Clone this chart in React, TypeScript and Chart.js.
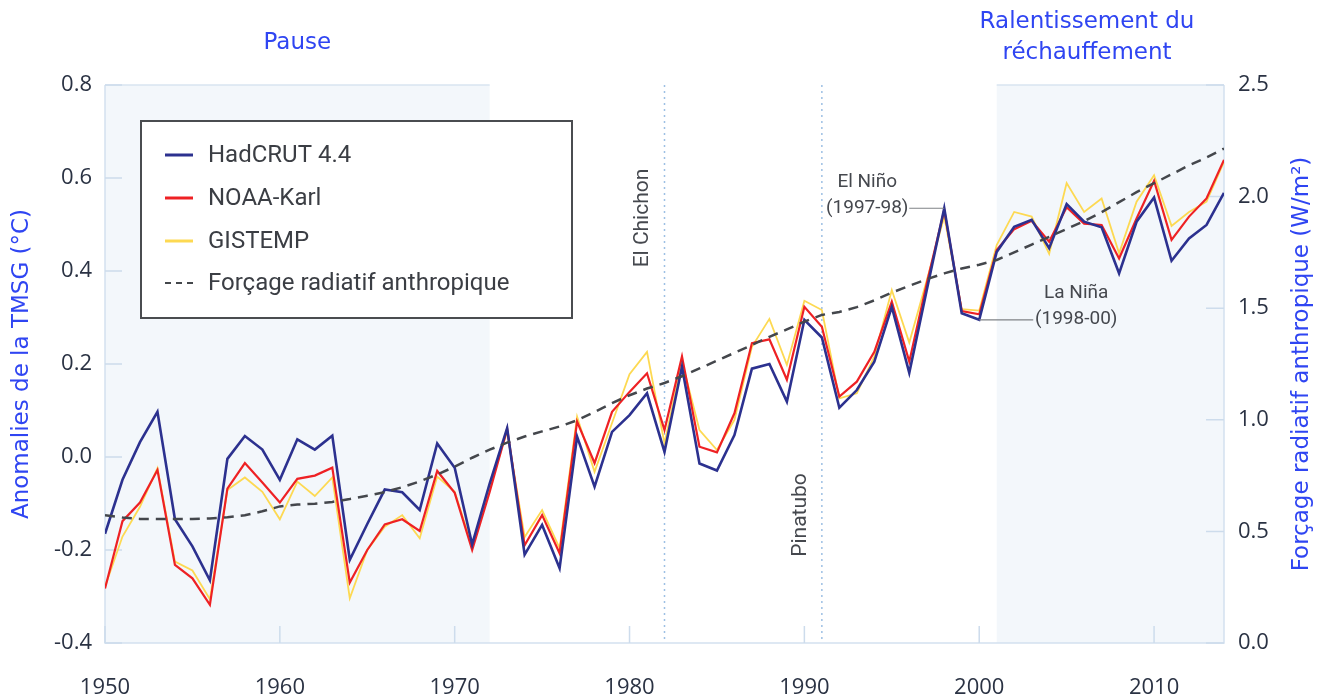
import React, { useEffect, useRef } from "react";
import { Chart, registerables } from "chart.js";

Chart.register(...registerables);

const years = [
  1950, 1951, 1952, 1953, 1954, 1955, 1956, 1957, 1958, 1959,
  1960, 1961, 1962, 1963, 1964, 1965, 1966, 1967, 1968, 1969,
  1970, 1971, 1972, 1973, 1974, 1975, 1976, 1977, 1978, 1979,
  1980, 1981, 1982, 1983, 1984, 1985, 1986, 1987, 1988, 1989,
  1990, 1991, 1992, 1993, 1994, 1995, 1996, 1997, 1998, 1999,
  2000, 2001, 2002, 2003, 2004, 2005, 2006, 2007, 2008, 2009,
  2010, 2011, 2012, 2013, 2014,
];

const hadcrut = [
  -0.165, -0.049, 0.032, 0.097, -0.134, -0.192, -0.265, -0.004, 0.045, 0.016,
  -0.049, 0.038, 0.016, 0.046, -0.221, -0.144, -0.07, -0.076, -0.114, 0.029,
  -0.023, -0.188, -0.057, 0.062, -0.21, -0.146, -0.239, 0.044, -0.064, 0.054,
  0.09, 0.137, 0.011, 0.194, -0.014, -0.029, 0.047, 0.19, 0.2, 0.119,
  0.295, 0.257, 0.106, 0.144, 0.205, 0.323, 0.181, 0.359, 0.535, 0.309,
  0.295, 0.441, 0.495, 0.51, 0.449, 0.544, 0.506, 0.494, 0.395, 0.506,
  0.558, 0.422, 0.47, 0.499, 0.568,
];

const noaaKarl = [
  -0.283, -0.138, -0.098, -0.028, -0.232, -0.261, -0.318, -0.068, -0.013, -0.055,
  -0.098, -0.047, -0.04, -0.023, -0.27, -0.2, -0.145, -0.134, -0.159, -0.03,
  -0.077, -0.2, -0.075, 0.06, -0.19, -0.125, -0.207, 0.076, -0.013, 0.097,
  0.14, 0.18, 0.058, 0.216, 0.022, 0.01, 0.094, 0.245, 0.253, 0.166,
  0.323, 0.28, 0.13, 0.162, 0.226, 0.334, 0.205, 0.373, 0.531, 0.314,
  0.307, 0.445, 0.49, 0.508, 0.463, 0.537, 0.502, 0.499, 0.427, 0.513,
  0.594, 0.467, 0.517, 0.556, 0.639,
];

const gistemp = [
  -0.279, -0.171, -0.107, -0.024, -0.225, -0.244, -0.306, -0.071, -0.044, -0.075,
  -0.134, -0.053, -0.084, -0.044, -0.304, -0.2, -0.15, -0.125, -0.175, -0.042,
  -0.075, -0.193, -0.065, 0.055, -0.172, -0.114, -0.196, 0.087, -0.032, 0.073,
  0.178, 0.226, 0.029, 0.205, 0.058, 0.015, 0.08, 0.237, 0.297, 0.198,
  0.336, 0.316, 0.126, 0.137, 0.216, 0.359, 0.246, 0.38, 0.517, 0.318,
  0.315, 0.456, 0.527, 0.517, 0.437, 0.589, 0.527, 0.556, 0.438, 0.549,
  0.606, 0.497, 0.527, 0.549, 0.635,
];

const forcing = [
  0.572, 0.562, 0.556, 0.555, 0.555, 0.556, 0.558, 0.563, 0.572, 0.59,
  0.612, 0.62, 0.624, 0.632, 0.645, 0.66, 0.676, 0.698, 0.724, 0.755,
  0.79, 0.83, 0.866, 0.898, 0.925, 0.948, 0.97, 0.998, 1.035, 1.075,
  1.11, 1.14, 1.165, 1.195, 1.23, 1.265, 1.3, 1.335, 1.372, 1.405,
  1.44, 1.47, 1.483, 1.505, 1.535, 1.57, 1.6, 1.63, 1.656, 1.678,
  1.695, 1.716, 1.75, 1.785, 1.82, 1.855, 1.89, 1.93, 1.975, 2.02,
  2.06, 2.1, 2.14, 2.175, 2.215,
];

const seriesLabels = ["HadCRUT 4.4", "NOAA-Karl", "GISTEMP", "Forçage radiatif anthropique"];
const seriesColors = ["#2c318f", "#ee2124", "#fdd952", "#44474c"];
const shadedPeriods = [
  [1950, 1972],
  [2001, 2014],
];
const periodLabels = [["Pause"], ["Ralentissement du", "réchauffement"]];
const eventYears = [1982, 1991];
const eventLabels = ["El Chichon", "Pinatubo"];
const leftAxisTitle = "Anomalies de la TMSG (°C)";
const rightAxisTitle = "Forçage radiatif anthropique (W/m²)";

const TICK_FONT = '"Open Sans", "Noto Sans", sans-serif';
const TITLE_FONT = '"DejaVu Sans", "Noto Sans", sans-serif';
const LEGEND_FONT = 'Roboto, "Noto Sans", sans-serif';
const NOTE_FONT = '"Liberation Sans Narrow", Roboto, sans-serif';
const BLUE = "#2f45f2";
const TICK_COLOR = "#2a3243";

const pts = (vals: number[]) => years.map((yr, i) => ({ x: yr, y: vals[i] }));

export default function App() {
  const ref = useRef<HTMLCanvasElement>(null);

  useEffect(() => {
    document.body.style.margin = "0";
    const canvas = ref.current!;

    const decor = {
      id: "decor",
      beforeDatasetsDraw(chart: any) {
        const { ctx, chartArea: a, scales } = chart;
        const x = scales.x, y = scales.y, y1 = scales.y1;
        ctx.save();
        for (const [s, e] of shadedPeriods) {
          const x0 = x.getPixelForValue(s);
          const x1 = x.getPixelForValue(e);
          ctx.fillStyle = "#f3f7fb";
          ctx.fillRect(x0, a.top, x1 - x0, a.bottom - a.top);
          ctx.strokeStyle = "#d8e5f1";
          ctx.lineWidth = 1.5;
          ctx.beginPath();
          ctx.moveTo(x0, a.top);
          ctx.lineTo(x1, a.top);
          ctx.stroke();
        }
        ctx.strokeStyle = "#d3e1ef";
        ctx.lineWidth = 1.5;
        ctx.beginPath();
        ctx.moveTo(a.left, a.top);
        ctx.lineTo(a.left, a.bottom);
        ctx.lineTo(a.right, a.bottom);
        ctx.lineTo(a.right, a.top);
        ctx.stroke();
        ctx.strokeStyle = "#cddcec";
        ctx.beginPath();
        y.ticks.forEach((t: any) => {
          const py = y.getPixelForValue(t.value);
          ctx.moveTo(a.left, py);
          ctx.lineTo(a.left + 17, py);
        });
        y1.ticks.forEach((t: any) => {
          const py = y1.getPixelForValue(t.value);
          ctx.moveTo(a.right - 18, py);
          ctx.lineTo(a.right, py);
        });
        x.ticks.forEach((t: any) => {
          const px = x.getPixelForValue(t.value);
          ctx.moveTo(px, a.bottom);
          ctx.lineTo(px, a.bottom - 17);
        });
        ctx.stroke();
        ctx.setLineDash([2, 4]);
        ctx.strokeStyle = "#9dc0e4";
        ctx.lineWidth = 1.5;
        eventYears.forEach((yr) => {
          const px = x.getPixelForValue(yr);
          ctx.beginPath();
          ctx.moveTo(px, a.top);
          ctx.lineTo(px, a.bottom);
          ctx.stroke();
        });
        ctx.restore();
      },
      afterDraw(chart: any) {
        const { ctx, chartArea: a, scales } = chart;
        const x = scales.x, y = scales.y;
        ctx.save();
        ctx.fillStyle = "#45484e";
        ctx.font = `21px ${NOTE_FONT}`;
        ctx.textAlign = "center";
        ctx.textBaseline = "middle";
        const evPos = [
          { dx: -22, py: 218 },
          { dx: -21, py: 515 },
        ];
        eventYears.forEach((yr, i) => {
          ctx.save();
          ctx.translate(x.getPixelForValue(yr) + evPos[i].dx, evPos[i].py);
          ctx.rotate(-Math.PI / 2);
          ctx.fillText(eventLabels[i], 0, 0);
          ctx.restore();
        });
        ctx.font = `19px ${NOTE_FONT}`;
        const ninoX = x.getPixelForValue(1998);
        const ninoY = y.getPixelForValue(hadcrut[years.indexOf(1998)]);
        ctx.fillText("El Niño", ninoX - 77, ninoY - 26);
        ctx.fillText("(1997-98)", ninoX - 77, ninoY);
        const ninaX = x.getPixelForValue(2000);
        const ninaY = y.getPixelForValue(hadcrut[years.indexOf(2000)]);
        ctx.fillText("La Niña", ninaX + 97, ninaY - 27);
        ctx.fillText("(1998-00)", ninaX + 97, ninaY - 1);
        ctx.strokeStyle = "#808387";
        ctx.lineWidth = 1.2;
        ctx.beginPath();
        ctx.moveTo(ninoX - 35, ninoY);
        ctx.lineTo(ninoX, ninoY);
        ctx.moveTo(ninaX, ninaY);
        ctx.lineTo(ninaX + 54, ninaY);
        ctx.stroke();

        ctx.fillStyle = BLUE;
        ctx.font = `23px ${TITLE_FONT}`;
        const p0 = (x.getPixelForValue(shadedPeriods[0][0]) + x.getPixelForValue(shadedPeriods[0][1])) / 2;
        ctx.fillText(periodLabels[0][0], p0, 43);
        ctx.fillText(periodLabels[1][0], 1087, 22);
        ctx.fillText(periodLabels[1][1], 1087, 53);

        ctx.font = `23px ${TITLE_FONT}`;
        const cy = (a.top + a.bottom) / 2;
        ctx.save();
        ctx.translate(22, cy);
        ctx.rotate(-Math.PI / 2);
        ctx.fillText(leftAxisTitle, 0, 0);
        ctx.restore();
        ctx.save();
        ctx.translate(1302, cy);
        ctx.rotate(-Math.PI / 2);
        ctx.fillText(rightAxisTitle, 0, 0);
        ctx.restore();

        const L = { x: 141, y: 121, w: 431, h: 197 };
        ctx.fillStyle = "#ffffff";
        ctx.fillRect(L.x, L.y, L.w, L.h);
        ctx.strokeStyle = "#4a4c50";
        ctx.lineWidth = 2;
        ctx.strokeRect(L.x, L.y, L.w, L.h);
        const rows = [155, 198, 241, 283];
        ctx.textAlign = "left";
        ctx.font = `24px ${LEGEND_FONT}`;
        seriesLabels.forEach((lab, i) => {
          ctx.strokeStyle = seriesColors[i];
          ctx.lineWidth = i === 3 ? 2.2 : 3;
          ctx.setLineDash(i === 3 ? [6, 5] : []);
          ctx.beginPath();
          ctx.moveTo(165, rows[i]);
          ctx.lineTo(193, rows[i]);
          ctx.stroke();
          ctx.setLineDash([]);
          ctx.fillStyle = "#3b3e44";
          ctx.fillText(lab, 208, rows[i] + 1);
        });
        ctx.restore();
      },
    };

    const chart = new Chart(canvas, {
      type: "line",
      data: {
        datasets: [
          {
            label: seriesLabels[3],
            data: pts(forcing),
            yAxisID: "y1",
            borderColor: seriesColors[3],
            borderWidth: 2.5,
            borderDash: [10, 7],
            pointRadius: 0,
            order: 0,
          },
          {
            label: seriesLabels[0],
            data: pts(hadcrut),
            yAxisID: "y",
            borderColor: seriesColors[0],
            borderWidth: 2.6,
            pointRadius: 0,
            order: 1,
          },
          {
            label: seriesLabels[1],
            data: pts(noaaKarl),
            yAxisID: "y",
            borderColor: seriesColors[1],
            borderWidth: 2.2,
            pointRadius: 0,
            order: 2,
          },
          {
            label: seriesLabels[2],
            data: pts(gistemp),
            yAxisID: "y",
            borderColor: seriesColors[2],
            borderWidth: 1.8,
            pointRadius: 0,
            order: 3,
          },
        ],
      },
      options: {
        responsive: false,
        animation: false,
        events: [],
        layout: { padding: { top: 85, left: 0, right: 0, bottom: 0 } },
        plugins: { legend: { display: false }, tooltip: { enabled: false } },
        elements: { line: { tension: 0 } },
        scales: {
          x: {
            type: "linear",
            min: 1950,
            max: 2014,
            grid: { display: false, drawTicks: false },
            border: { display: false },
            ticks: {
              stepSize: 10,
              includeBounds: false,
              autoSkip: false,
              maxRotation: 0,
              padding: 32,
              color: TICK_COLOR,
              font: { size: 22, family: TICK_FONT },
              callback: (v: any) => String(v),
            },
            afterFit: (s: any) => {
              s.height = 57;
            },
          },
          y: {
            position: "left",
            min: -0.4,
            max: 0.8,
            grid: { display: false, drawTicks: false },
            border: { display: false },
            ticks: {
              stepSize: 0.2,
              padding: 13,
              color: TICK_COLOR,
              font: { size: 22, family: TICK_FONT },
              callback: (v: any) => (Math.abs(v) < 1e-9 ? "0.0" : Number(v).toFixed(1)),
            },
            afterFit: (s: any) => {
              s.width = 105;
            },
          },
          y1: {
            position: "right",
            min: 0,
            max: 2.5,
            grid: { display: false, drawTicks: false },
            border: { display: false },
            ticks: {
              stepSize: 0.5,
              padding: 14,
              color: TICK_COLOR,
              font: { size: 22, family: TICK_FONT },
              callback: (v: any) => Number(v).toFixed(1),
            },
            afterFit: (s: any) => {
              s.width = 99;
            },
          },
        },
      },
      plugins: [decor],
    } as any);

    return () => chart.destroy();
  }, []);

  return (
    <div style={{ position: "absolute", left: 0, top: 0, width: 1323, height: 700, background: "#ffffff" }}>
      <canvas ref={ref} width={1323} height={700} style={{ display: "block" }} />
    </div>
  );
}
